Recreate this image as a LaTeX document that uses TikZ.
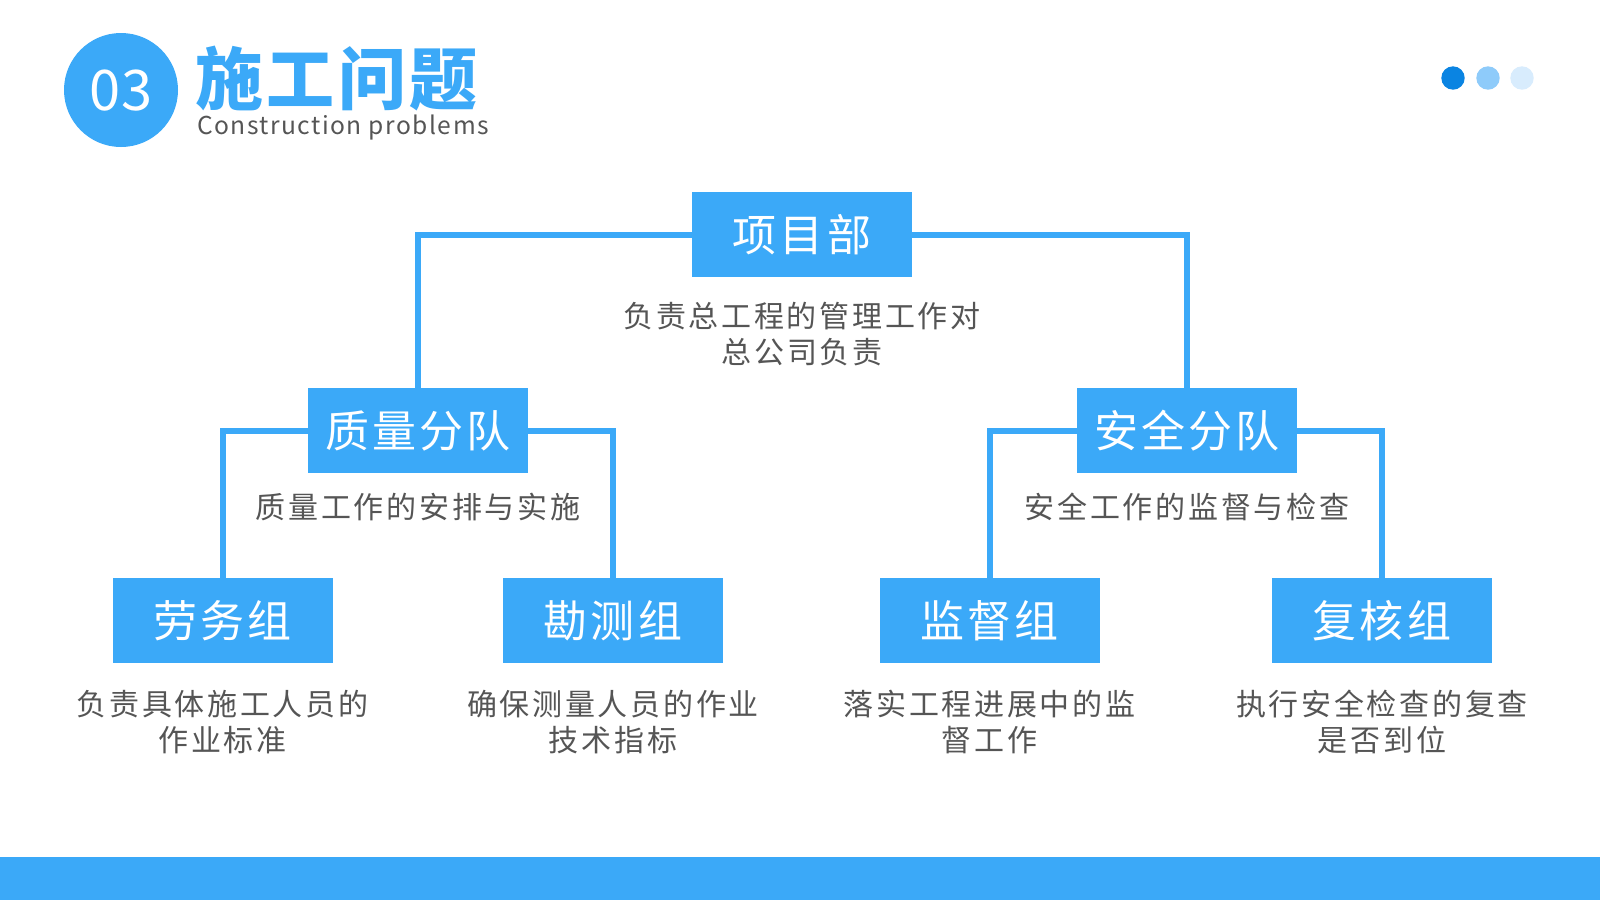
\documentclass[tikz,border=0pt]{standalone}
\usepackage{fontspec}
\setmainfont{Noto Sans CJK SC}
\newfontfamily\cjk{Noto Sans CJK SC}
\newfontfamily\cjkbox[LetterSpace=7]{Noto Sans CJK SC}
\newfontfamily\cjkdesc[LetterSpace=9]{Noto Sans CJK SC}
\newfontfamily\cjktitle[LetterSpace=5]{Noto Sans CJK SC}
\newfontfamily\latsub[LetterSpace=6]{Noto Sans CJK SC}
\definecolor{mainblue}{HTML}{3BA9F8}
\definecolor{dot1}{HTML}{0A84E2}
\definecolor{dot2}{HTML}{8ECBFA}
\definecolor{dot3}{HTML}{D8ECFD}
\definecolor{desctext}{HTML}{555555}
\tikzset{
  boxnode/.style={fill=mainblue, minimum width=220pt, minimum height=85pt, inner sep=0pt,
    text=white, font=\cjkbox\fontsize{44}{50}\selectfont},
  descnode/.style={align=center, text=desctext, inner sep=0pt,
    font=\cjkdesc\fontsize{30}{36}\selectfont},
  conn/.style={draw=mainblue, line width=6pt, line join=miter},
}
\begin{document}
\begin{tikzpicture}[x=1pt,y=-1pt]
\useasboundingbox (0,0) rectangle (1600,900);
\fill[white] (0,0) rectangle (1600,900);
% bottom bar
\fill[mainblue] (0,857) rectangle (1600,900);
% header
\fill[mainblue] (121,90) circle (57);
\node[text=white, font=\cjk\fontsize{56}{60}\selectfont, inner sep=0pt] (num) at (121,91) {03};
\node[anchor=base west, inner sep=0pt, text=mainblue, font=\cjktitle\bfseries\fontsize{68}{72}\selectfont] (title) at (195,104) {施工问题};
\node[anchor=base west, inner sep=0pt, text=desctext, font=\latsub\fontsize{24.6}{28}\selectfont] (sub) at (197,134) {Construction problems};
% dots
\fill[dot1] (1453,78) circle (11.7);
\fill[dot2] (1488,78) circle (11.7);
\fill[dot3] (1522,78) circle (11.7);
% boxes
\node[boxnode] (xm) at (802,234.5) {项目部};
\node[boxnode] (zl) at (418,430.5) {质量分队};
\node[boxnode] (aq) at (1187,430.5) {安全分队};
\node[boxnode] (lw) at (222.5,620.5) {劳务组};
\node[boxnode] (kc) at (613,620.5) {勘测组};
\node[boxnode] (jd) at (989.5,620.5) {监督组};
\node[boxnode] (fh) at (1382,620.5) {复核组};
% connectors
\draw[conn] (xm.west) -| (zl.north);
\draw[conn] (xm.east) -| (aq.north);
\draw[conn] (zl.west) -| (lw.north);
\draw[conn] (zl.east) -| (kc.north);
\draw[conn] (aq.west) -| (jd.north);
\draw[conn] (aq.east) -| (fh.north);
% descriptions
\node[descnode] (dxm) at (802,334) {负责总工程的管理工作对\\总公司负责};
\node[descnode] (dzl) at (418,507) {质量工作的安排与实施};
\node[descnode] (daq) at (1187,507) {安全工作的监督与检查};
\node[descnode] (dlw) at (222.5,722) {负责具体施工人员的\\作业标准};
\node[descnode] (dkc) at (613,722) {确保测量人员的作业\\技术指标};
\node[descnode] (djd) at (989.5,722) {落实工程进展中的监\\督工作};
\node[descnode] (dfh) at (1382,722) {执行安全检查的复查\\是否到位};
\end{tikzpicture}
\end{document}
